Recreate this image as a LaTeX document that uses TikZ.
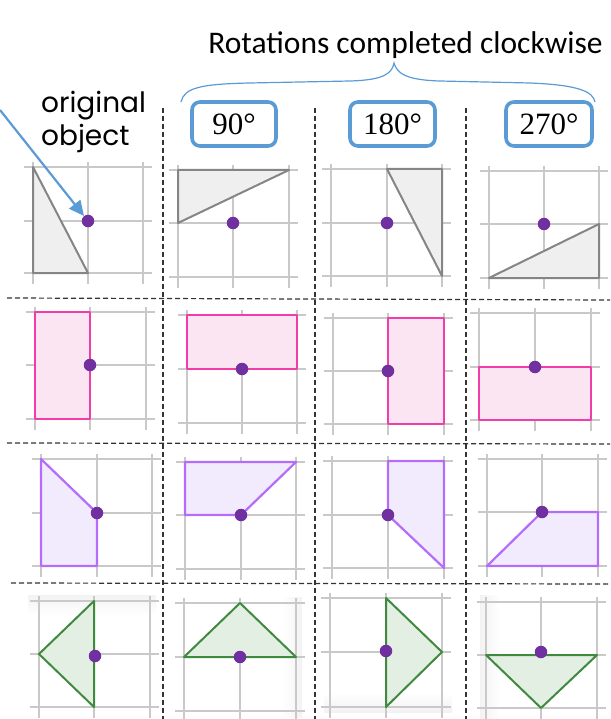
\documentclass[tikz,border=0pt]{standalone}
\usepackage{fontspec}
\newfontfamily\hdfont{Carlito}
\newfontfamily\objfont{Poppins}
\newfontfamily\degfont{Liberation Serif}
\usetikzlibrary{arrows.meta}
\definecolor{bluec}{HTML}{5B9BD5}
\definecolor{dotc}{HTML}{7030A0}
\definecolor{gridc}{HTML}{C9C9C9}
\definecolor{grayl}{HTML}{858585}
\definecolor{grayf}{HTML}{EFEFEF}
\definecolor{pinkl}{HTML}{F03DA8}
\definecolor{pinkf}{HTML}{FCE5F2}
\definecolor{purpl}{HTML}{B46CFA}
\definecolor{purpf}{HTML}{F2EAFD}
\definecolor{greenl}{HTML}{3F8A3F}
\definecolor{greenf}{HTML}{E4EFE4}
\newcommand{\gridpanel}[6]{%
  \foreach \gx in {#1,#2,#3} {\draw[gridline] (\gx,#4-5) -- (\gx,#6+11);}
  \foreach \gy in {#4,#5,#6} {\draw[gridline] (#1-9,\gy) -- (#3+9,\gy);}
}
\tikzset{
  gridline/.style={gridc, line width=1.1pt},
  sepline/.style={black!80, line width=1.2pt, dash pattern=on 5pt off 3pt},
  dot/.style={circle, fill=dotc, inner sep=0pt, minimum size=12.5pt},
  grayshape/.style={draw=grayl, fill=grayf, line width=2pt, line join=round},
  pinkshape/.style={draw=pinkl, fill=pinkf, line width=2.2pt, line join=round},
  purpshape/.style={draw=purpl, fill=purpf, line width=2.2pt, line join=round},
  greenshape/.style={draw=greenl, fill=greenf, line width=2pt, line join=round},
  degbox/.style={draw=bluec, line width=3.6pt, rounded corners=8pt, minimum width=84pt, minimum height=44pt, inner sep=0pt, font=\degfont\fontsize{31}{34}\selectfont},
  objtext/.style={font=\objfont\fontsize{28}{34}\selectfont, inner sep=0pt},
  arrowline/.style={bluec, line width=2.2pt, -{Triangle[length=15pt,width=14pt]}}
}
\begin{document}
\begin{tikzpicture}[x=1pt,y=-1pt]
\useasboundingbox (0,0) rectangle (610,719);
% row 4 faint panel shading
\shade[top color=black!5, bottom color=white] (28,595) rectangle (156,615);
\shade[left color=white, right color=black!5] (282,597) rectangle (302,717);
\shade[top color=white, bottom color=black!5] (324,692) rectangle (452,712);
\shade[left color=black!5, right color=white] (480,595) rectangle (500,719);
% separators
\draw[sepline] (163,108) -- (163,719);
\draw[sepline] (315,108) -- (315,719);
\draw[sepline] (466,108) -- (466,719);
\draw[sepline] (7,298) -- (610,300);
\draw[sepline] (7,443) -- (610,444);
\draw[sepline] (11,583) -- (610,584);
% grids
\gridpanel{33}{88}{143}{167}{221}{273}
\gridpanel{178}{233}{289}{170}{223}{277}
\gridpanel{331}{387}{442}{169}{223}{276}
\gridpanel{489}{544}{599}{171}{224}{278}
\gridpanel{35}{90}{146}{312}{365}{419}
\gridpanel{187}{242}{297}{315}{369}{423}
\gridpanel{333}{388}{444}{318}{371}{424}
\gridpanel{479}{535}{591}{313}{367}{420}
\gridpanel{41}{97}{152}{459}{513}{566}
\gridpanel{185}{241}{296}{462}{515}{569}
\gridpanel{332}{388}{444}{461}{515}{568}
\gridpanel{487}{542}{598}{459}{512}{566}
\gridpanel{39}{94}{150}{601}{654}{707}
\gridpanel{184}{240}{296}{603}{657}{711}
\gridpanel{330}{386}{442}{598}{652}{707}
\gridpanel{486}{541}{597}{602}{655}{708}
% row 1 shapes
\draw[grayshape] (33,167) -- (33,273) -- (88,273) -- cycle;
\draw[grayshape] (178,170) -- (289,170) -- (178,223) -- cycle;
\draw[grayshape] (387,169) -- (442,169) -- (442,276) -- cycle;
\draw[grayshape] (489,278) -- (599,278) -- (599,224) -- cycle;
% row 2 shapes
\draw[pinkshape] (35,312) rectangle (90,419);
\draw[pinkshape] (187,315) rectangle (297,369);
\draw[pinkshape] (388,318) rectangle (444,424);
\draw[pinkshape] (479,367) rectangle (591,420);
% row 3 shapes
\draw[purpshape] (41,459) -- (97,513) -- (97,566) -- (41,566) -- cycle;
\draw[purpshape] (185,462) -- (296,462) -- (241,515) -- (185,515) -- cycle;
\draw[purpshape] (388,461) -- (444,461) -- (444,568) -- (388,515) -- cycle;
\draw[purpshape] (487,566) -- (542,512) -- (598,512) -- (598,566) -- cycle;
% row 4 shapes
\draw[greenshape] (94,601) -- (39,654) -- (94,707) -- cycle;
\draw[greenshape] (184,657) -- (240,603) -- (296,657) -- cycle;
\draw[greenshape] (386,598) -- (442,652) -- (386,707) -- cycle;
\draw[greenshape] (486,655) -- (597,655) -- (541,708) -- cycle;
% centres of rotation
\node[dot] (d11) at (88,221) {};
\node[dot] (d12) at (233,223) {};
\node[dot] (d13) at (387,223) {};
\node[dot] (d14) at (544,224) {};
\node[dot] (d21) at (90,365) {};
\node[dot] (d22) at (242,369) {};
\node[dot] (d23) at (388,371) {};
\node[dot] (d24) at (535,367) {};
\node[dot] (d31) at (97,513) {};
\node[dot] (d32) at (241,515) {};
\node[dot] (d33) at (388,515) {};
\node[dot] (d34) at (542,512) {};
\node[dot] (d41) at (95,656) {};
\node[dot] (d42) at (240,657) {};
\node[dot] (d43) at (386,651) {};
\node[dot] (d44) at (541,652) {};
% header
\node[anchor=base, inner sep=0pt, font=\hdfont\fontsize{31.5}{36}\selectfont] (title) at (405.5,54) {Rotations completed clockwise};
\draw[bluec, line width=1.2pt] (181,102) .. controls (184,88) and (200,84) .. (250,83)
  -- (350,81) .. controls (385,80) and (392,73) .. (394,63)
  .. controls (397,73) and (405,80) .. (440,81)
  -- (530,83) .. controls (580,85) and (593,92) .. (595,102);
\node[degbox] (b90) at (234,124) {90°};
\node[degbox, minimum width=85pt] (b180) at (392.5,124) {180°};
\node[degbox, minimum width=86pt] (b270) at (549,124) {270°};
\node[objtext, anchor=base west] (orig1) at (41,113) {original};
\node[objtext, anchor=base west] (orig2) at (41,146) {object};
\coordinate (astart) at (0,110);
\draw[arrowline] (astart) -- (d11);
\end{tikzpicture}
\end{document}
